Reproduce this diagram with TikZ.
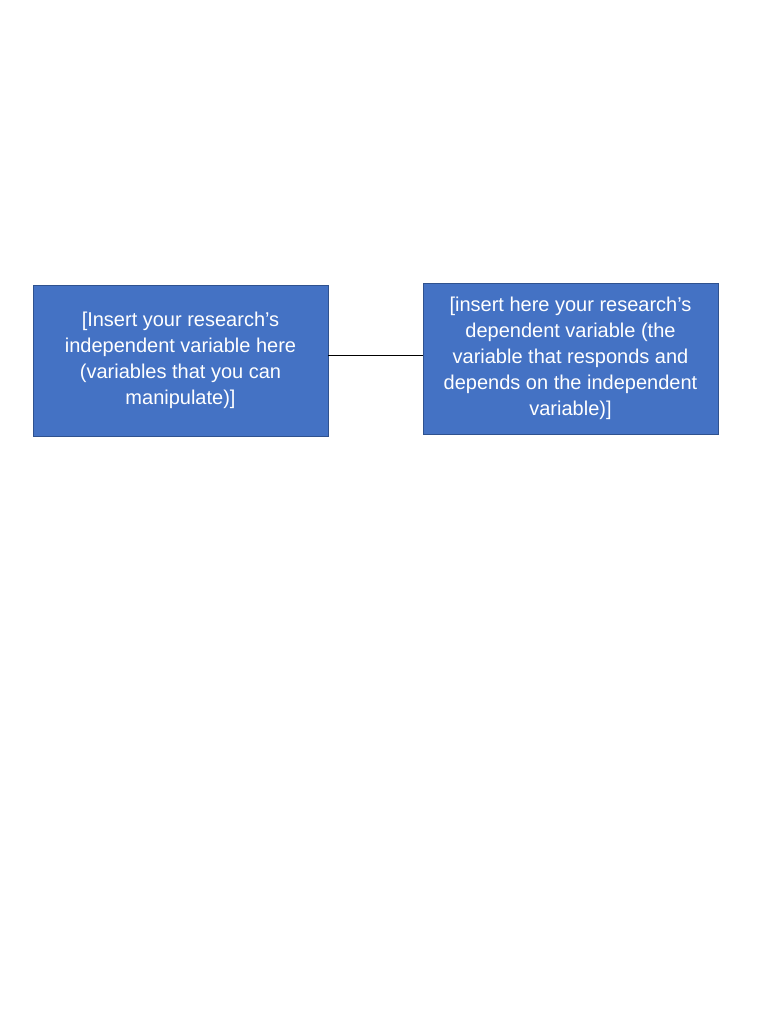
\documentclass[tikz,border=0pt]{standalone}
\usepackage{fontspec}
\setmainfont{Liberation Sans}
\definecolor{boxblue}{HTML}{4472C4}
\definecolor{boxedge}{HTML}{2F528F}
\tikzset{varbox/.style={draw=boxedge, fill=boxblue, text=white, minimum width=221.25pt, minimum height=113.25pt, align=center, inner sep=0pt, font=\fontsize{15}{19.5}\selectfont}}
\begin{document}
\begin{tikzpicture}[x=0.75pt, y=-0.75pt]
				\useasboundingbox[fill=white] (0,0) rectangle (768,1024);
				\node[varbox] (indep) at (180.5,360.5) {[Insert your research’s\\independent variable here\\(variables that you can\\manipulate)]};
				\node[varbox] (dep) at (570.5,358.5) {[insert here your research’s\\dependent variable (the\\variable that responds and\\depends on the independent\\variable)]};
				\draw[thin] (indep.east) ++(0,-5.5) coordinate (link) -- (link -| dep.west);
			\end{tikzpicture}
\end{document}
